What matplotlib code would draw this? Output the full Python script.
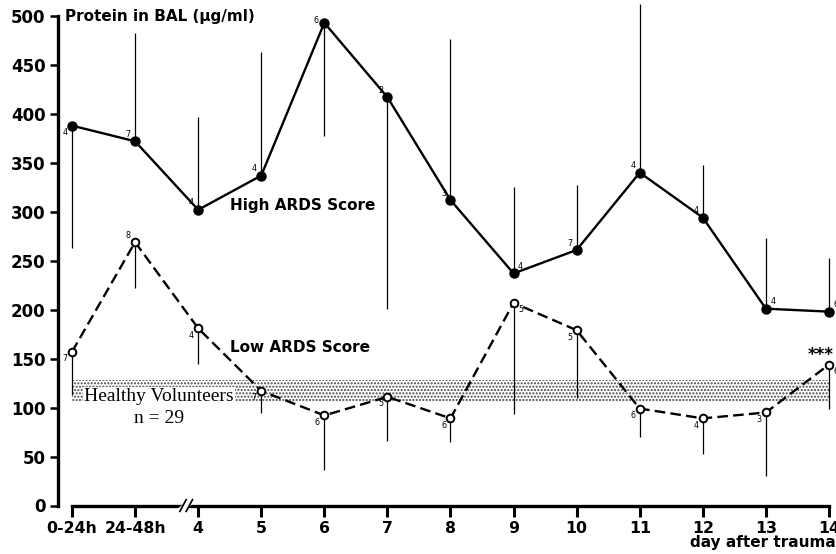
import matplotlib
matplotlib.use("Agg")
import matplotlib.pyplot as plt
import numpy as np

# x categories (days after trauma)
days = ["0-24h", "24-48h", "4", "5", "6", "7", "8", "9", "10", "11", "12", "13", "14"]

# High ARDS score: mean, end of the one-sided SD bar, n
high_mean = [388, 372, 302, 337, 493, 417, 312, 237, 261, 340, 294, 201, 198]
high_err = [263, 483, 397, 463, 377, 201, 476, 325, 327, 512, 348, 273, 253]
high_n = [4, 7, 4, 4, 6, 2, 3, 4, 7, 4, 4, 4, 6]

# Low ARDS score
low_mean = [157, 269, 181, 117, 92, 111, 89, 207, 179, 99, 89, 95, 144]
low_err = [113, 222, 145, 94, 36, 66, 65, 93, 110, 70, 53, 30, 99]
low_n = [7, 8, 4, 7, 6, 5, 6, 5, 5, 6, 4, 3, 6]

# healthy volunteers range
healthy_lo = 107
healthy_hi = 128

# where the little n labels sit relative to the point
high_pos = ["lb", "la", "la", "la", "l", "la", "la", "ra", "la", "la", "la", "ra", "ra"]
low_pos = ["lb", "la", "lb", "lb", "lb", "lb", "lb", "rb", "lb", "lb", "lb", "lb", "rb"]
offsets = {"lb": (-5, -5), "la": (-5, 5), "ra": (5, 5), "rb": (5, -5), "l": (-6, 2)}

bold = dict(family="DejaVu Sans", weight="bold")

fig = plt.figure(figsize=(8.37, 5.54), dpi=100)
ax = fig.add_axes([58 / 837, 48.5 / 554, 779 / 837, 505.5 / 554])

x = np.arange(len(days))

# healthy band
ax.fill_between(x, healthy_lo, healthy_hi, facecolor="white", edgecolor="#444444",
                hatch=".....", linewidth=0, zorder=1)

# error bars
ax.vlines(x, high_mean, high_err, color="black", linewidth=0.9, zorder=2)
ax.vlines(x, low_mean, low_err, color="black", linewidth=0.9, zorder=2)

ax.plot(x, high_mean, color="black", linewidth=1.7, marker="o", markersize=6.5,
        markerfacecolor="black", zorder=4)
ax.plot(x, low_mean, color="black", linewidth=1.7, linestyle=(0, (4.5, 2.2)),
        marker="o", markersize=5.5, markerfacecolor="white", markeredgewidth=1.4, zorder=4)

for xi, yi, n, p in zip(x, high_mean, high_n, high_pos):
    dx, dy = offsets[p]
    ax.annotate(str(n), (xi, yi), xytext=(dx, dy), textcoords="offset points",
                ha="center", va="center", fontsize=5.8, zorder=5)
for xi, yi, n, p in zip(x, low_mean, low_n, low_pos):
    dx, dy = offsets[p]
    ax.annotate(str(n), (xi, yi), xytext=(dx, dy), textcoords="offset points",
                ha="center", va="center", fontsize=5.8, zorder=5)

# labels
ax.text(-0.11, 499, "Protein in BAL (\u00b5g/ml)", fontsize=11, ha="left", va="center", **bold)
ax.text(2.5, 306, "High ARDS Score", fontsize=11, ha="left", va="center", **bold)
ax.text(2.5, 161, "Low ARDS Score", fontsize=11, ha="left", va="center", **bold)
ax.text(1.38, 111, "Healthy Volunteers", fontsize=14, ha="center", va="center",
        family="Liberation Serif", zorder=3,
        bbox=dict(facecolor="white", edgecolor="none", pad=1.0))
ax.text(1.38, 89, "n = 29", fontsize=14, ha="center", va="center", family="Liberation Serif")
ax.annotate("***", (x[-1], low_mean[-1]), xytext=(-6, 7), textcoords="offset points",
            ha="center", va="center", fontsize=12, **bold)

# axes styling
ax.set_xlim(-0.222, 12.127)
ax.set_ylim(0, 516.3)
ax.set_xticks(x)
ax.set_xticklabels(days, fontsize=11.3, **bold)
ax.set_yticks(np.arange(0, 501, 50))
ax.set_yticklabels([str(v) for v in range(0, 501, 50)], fontsize=12, **bold)
for s in ["top", "right"]:
    ax.spines[s].set_visible(False)
ax.spines["left"].set_bounds(0, 500)
ax.spines["left"].set_linewidth(2.4)
ax.spines["bottom"].set_bounds(0, 12)
ax.spines["bottom"].set_linewidth(2.4)
ax.tick_params(axis="y", length=6, width=1.8, pad=3)
ax.tick_params(axis="x", length=8, width=2.2, pad=3)
for lab in ax.get_xticklabels():
    lab.set_clip_on(False)

# axis break between 24-48h and day 4
bx = 1.81
ax.plot([bx - 0.1, bx + 0.1], [-5, 5], color="white", linewidth=4, clip_on=False, zorder=6)
for d in (-0.05, 0.05):
    ax.plot([bx + d - 0.05, bx + d + 0.05], [-6, 6], color="black", linewidth=1.2,
            clip_on=False, zorder=7)

fig.text(0.998, 0.02, "day after trauma", ha="right", va="center", fontsize=11, **bold)

fig.savefig("out.png", dpi=100)
plt.close(fig)
